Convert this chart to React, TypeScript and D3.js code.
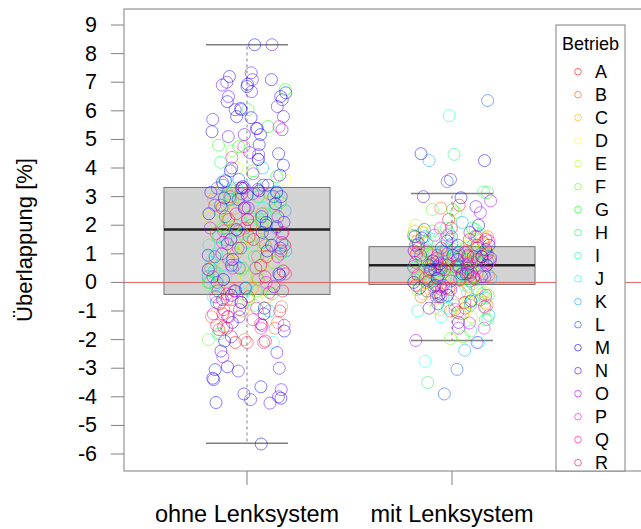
import React, { useMemo } from "react";
import * as d3 from "d3";

const betriebe = ["A", "B", "C", "D", "E", "F", "G", "H", "I", "J", "K", "L", "M", "N", "O", "P", "Q", "R"];
const gruppen = ["ohne Lenksystem", "mit Lenksystem"];
const yTicks = [-6, -5, -4, -3, -2, -1, 0, 1, 2, 3, 4, 5, 6, 7, 8, 9];

// Überlappung [%] je Betrieb, ohne Lenksystem
const ohneWerte: number[][] = [
  [-2.05, -2.1, -1.65, -1.45, -1.1, -0.95, -0.75, -0.3, 0.4, 1.3, 1.9, 2.6, 3.0, -1.55, 0.9, 2.2, -0.5, 1.6],
  [-2.0, -1.6, -1.2, -0.85, -0.6, 0.1, 0.9, 1.7, 2.4, 3.1, -1.4, 0.5, 1.3, 2.0, -0.2],
  [-1.0, -0.5, 0.6, 1.5, 2.2, 2.9, 3.4, -0.2, 0.1, 1.0, 1.9, 2.6],
  [0.3, 1.1, 2.0, 2.7, 3.6, -0.9, -0.3, 0.7, 1.5, 2.3],
  [-0.6, 0.8, 1.6, 2.3, 3.3, 4.0, 0.2, 1.2, 2.0, 2.8],
  [-2.0, -1.8, 0.2, 1.2, 2.1, 3.1, 3.9, 4.6, 2.5, -0.6, 0.7, 1.6, 2.9],
  [6.74, 6.04, 5.45, 4.8, 4.75, 3.7, 2.8, 1.4, 0.5, -0.4, 1.9, 0.0, 1.0, 2.3, 3.2],
  [4.2, 3.5, 2.6, 1.8, 0.9, 0.0, -0.8, 3.0, -0.3, 0.4, 1.4, 2.2],
  [3.3, 2.4, 1.0, 0.3, -0.5, 1.6, 2.9, 0.6, 1.3, 2.0, -0.1],
  [-1.8, -2.1, 0.2, 1.3, 2.2, 3.2, 0.7, -0.4, 1.7, 2.6, 3.6],
  [-0.2, 0.6, 1.5, 2.5, 3.4, 4.0, -1.0, 0.2, 1.1, 1.9, 2.9],
  [0.0, 0.9, 1.7, 2.3, 3.0, 3.6, 4.3, -0.7, 1.2, -0.2, 0.5, 2.0, 2.7, 3.3],
  [8.31, 7.2, 7.09, 6.93, 6.85, 6.63, 6.5, 6.32, 6.08, 5.8, 5.76, 5.38, 5.27, 5.17, 4.82, 4.5,
    4.1, 3.9, 3.55, 3.3, 3.2, 3.05, 2.75, 2.4, 2.1, 1.85, 1.5, 1.1, 0.8, 0.45, 0.1, -0.45,
    -0.7, -1.4, -2.05, -2.4, -2.95, -3.05, -3.35, -3.65, -3.9, -4.05, -4.2, -5.65,
    3.4, 2.6, 1.3, 0.3, -0.9, -1.1, -1.7, 3.15, 2.95],
  [8.31, 7.33, 7.09, 7.0, 6.9, 6.67, 6.5, 6.39, 6.15, 6.04, 6.04, 5.8, 5.7, 5.38, 5.34, 5.17,
    5.1, 4.54, 4.47, 4.3, 4.0, 3.75, 3.4, 3.35, 3.15, 2.9, 2.6, 2.3, 1.95, 1.75, 1.35, 0.95,
    0.6, 0.25, -0.15, -0.6, -0.95, -1.5, -2.45, -3.0, -3.1, -3.4, -3.75, -4.0, -4.1, -4.22,
    3.3, 3.0, 2.1, 1.2, -0.3, -1.2, -1.9, 3.5, 3.25],
  [-2.6, -1.5, -0.7, 0.2, 1.0, 1.9, 2.7, 3.3, 3.8, -1.2, 0.5, 1.4, 2.3, -0.3],
  [-1.1, -0.5, 0.5, 1.4, 2.2, 3.1, -1.6, 0.0, 0.9, 1.8, 2.6],
  [5.45, 4.75, 4.37, 3.1, 1.8, 1.7, 0.3, -0.9, -1.3, -1.5, -2.1, 0.8, 2.4, -0.4, 1.2],
  [-2.1, -1.6, -1.0, -0.6, -0.3, 0.2, 1.1, 1.75, -0.35, 0.6, -1.2, 1.5, 2.2],
];

// Überlappung [%] je Betrieb, mit Lenksystem
const mitWerte: number[][] = [
  [2.7, 2.2, 1.9, 1.4, 1.0, 0.75, 0.5, 0.3, 0.05, -0.3, -0.6, 0.9, 1.2, 0.2, 0.65, 1.6, -0.1, -0.9, 1.1],
  [2.6, 1.6, 1.3, 0.8, 0.4, 0.1, -0.2, -0.5, -1.0, -0.8, 0.95, 1.75, 0.6, 0.25, 1.15, -0.35, 1.45, 0.0],
  [1.8, 1.1, 0.6, 0.2, -0.15, -0.7, -1.1, 0.45, 1.35, -0.4, 0.9, 0.3, -0.6, 1.55, 0.75, -0.95],
  [1.5, 0.9, 0.3, -0.4, -1.05, 0.65, 1.2, -0.2, 0.0, 0.45, 1.0, -0.7, 1.75, 0.15, 0.8],
  [1.7, 1.25, 0.7, 0.15, -0.35, -0.9, 0.45, 2.0, -1.2, 0.9, 0.3, -0.5, 1.5, 0.05, 1.05],
  [2.55, 2.44, 1.6, 1.0, 0.35, -0.25, -1.96, -1.9, 0.8, -0.7, 0.55, 1.25, -0.4, 0.1, 1.8, -1.1],
  [3.14, 2.55, 1.9, 1.15, 0.55, -0.1, -0.8, 1.4, 0.2, -1.3, 0.8, 0.35, -0.45, 1.65, 0.95, 0.05],
  [4.48, 3.16, 1.7, 0.85, 0.25, -0.55, -1.7, -3.5, 1.3, 0.6, 0.4, 1.05, -0.2, 1.9, -0.9, 0.1],
  [5.83, 1.85, 1.2, 0.5, -0.05, -0.6, -1.3, 0.9, -1.0, 0.3, 0.7, 1.5, 0.1, -0.35, 1.05, 0.55],
  [1.55, 0.95, 0.4, -0.3, -0.9, -2.1, -2.76, 0.1, 1.25, -1.2, 0.75, 0.25, -0.55, 1.7, 0.55, -0.1],
  [4.26, 2.1, 1.35, 0.7, 0.15, -0.45, -1.15, -2.37, 0.95, -0.8, 0.5, 1.1, 0.35, -0.25, 1.6, 0.85],
  [6.36, 3.53, 1.6, 1.05, 0.5, -0.15, -0.75, -3.04, -3.9, 0.8, 0.25, 0.6, 1.3, 0.05, -0.5, 1.85, 0.95],
  [4.5, 4.26, 2.96, 2.0, 1.45, 0.9, 0.6, 0.3, -0.2, -0.65, 1.15, 0.0, 0.75, 0.45, 1.6, -0.45, 0.15, 1.3],
  [3.6, 2.65, 3.0, 1.75, 1.1, 0.65, 0.2, -0.35, -1.4, 0.45, 0.85, -0.9, 0.55, 1.35, 0.95, -0.1, 0.3, 1.55],
  [2.85, 2.44, 1.3, 0.75, 0.35, -0.1, -1.42, -1.6, -2.1, -2.03, 0.55, -0.5, 0.65, 1.0, 0.2, -0.25, 1.6, 0.9],
  [1.9, 1.45, 0.95, 0.6, 0.15, -0.45, -1.6, 0.7, -0.95, 1.2, 0.45, 0.8, 1.65, 0.3, -0.15, 0.55],
  [1.65, 1.05, 0.65, 0.25, -0.25, -0.85, 0.85, 1.3, 0.05, 0.45, 0.7, 1.5, -0.5, 0.95, 0.15],
  [1.5, 0.8, 0.55, 0.1, -0.4, -1.05, 1.0, 0.35, -0.7, 0.7, 0.25, 1.2, -0.2, 0.9, 0.6],
];

// boxplot statistics
const boxQ1 = [-0.42, -0.07];
const boxMedian = [1.85, 0.6];
const boxQ3 = [3.32, 1.25];
const whiskerLow = [-5.62, -2.03];
const whiskerHigh = [8.31, 3.11];

const font = "'Liberation Sans', Arial, Helvetica, sans-serif";

export default function App() {
  const W = 641;
  const H = 529;
  const left = 124, right = 657, top = 9, bottom = 471;

  const x = d3.scaleLinear().domain([0.4, 3.0]).range([left, right]);
  const y = d3.scaleLinear().domain([-6.594, 9.56]).range([bottom, top]);
  const color = d3
    .scaleOrdinal<string, string>()
    .domain(betriebe)
    .range(betriebe.map((_, i) => d3.hsl(i * 20, 1, 0.5).formatHex()));

  // jittered points, deterministic horizontal spread
  const points = useMemo(() => {
    const jit = d3.randomUniform.source(d3.randomLcg(0.42))(-0.19, 0.19);
    const out: { g: number; b: string; v: number; dx: number }[] = [];
    [ohneWerte, mitWerte].forEach((werte, g) => {
      werte.forEach((vals, bi) => {
        vals.forEach((v) => out.push({ g, b: betriebe[bi], v, dx: jit() }));
      });
    });
    return out;
  }, []);

  const boxHalf = 0.405;
  const capHalf = 0.2;
  const gray = "#808080";

  const legendTop = 25;
  const legendLeft = 556;
  const legendRight = 625;
  const rowY = (i: number) => 71.7 + i * 23;

  return (
    <svg
      width={W}
      height={H}
      style={{ position: "absolute", left: 0, top: 0, background: "#fff" }}
      fontFamily={font}
    >
      <defs>
        <clipPath id="plot">
          <rect x={left} y={top} width={right - left} height={bottom - top} />
        </clipPath>
      </defs>

      {/* boxes */}
      {gruppen.map((g, i) => {
        const cx = x(i + 1);
        return (
          <g key={g}>
            <line x1={cx} x2={cx} y1={y(boxQ3[i])} y2={y(whiskerHigh[i])} stroke={gray} strokeDasharray="3,3" />
            <line x1={cx} x2={cx} y1={y(boxQ1[i])} y2={y(whiskerLow[i])} stroke={gray} strokeDasharray="3,3" />
            <line x1={x(i + 1 - capHalf)} x2={x(i + 1 + capHalf)} y1={y(whiskerHigh[i])} y2={y(whiskerHigh[i])} stroke={gray} strokeWidth={1.5} />
            <line x1={x(i + 1 - capHalf)} x2={x(i + 1 + capHalf)} y1={y(whiskerLow[i])} y2={y(whiskerLow[i])} stroke={gray} strokeWidth={1.5} />
            <rect
              x={x(i + 1 - boxHalf)}
              y={y(boxQ3[i])}
              width={x(i + 1 + boxHalf) - x(i + 1 - boxHalf)}
              height={y(boxQ1[i]) - y(boxQ3[i])}
              fill="#d3d3d3"
              stroke="#707070"
            />
            <line x1={x(i + 1 - boxHalf)} x2={x(i + 1 + boxHalf)} y1={y(boxMedian[i])} y2={y(boxMedian[i])} stroke="#222" strokeWidth={2.5} />
          </g>
        );
      })}

      {/* zero line */}
      <line x1={left} x2={right} y1={y(0)} y2={y(0)} stroke="#e06060" strokeWidth={1} />

      {/* points */}
      <g clipPath="url(#plot)">
        {points.map((p, i) => (
          <circle
            key={i}
            cx={x(p.g + 1 + p.dx)}
            cy={y(p.v)}
            r={6}
            fill="none"
            stroke={color(p.b)}
            strokeOpacity={0.5}
            strokeWidth={1}
          />
        ))}
      </g>

      {/* frame */}
      <rect x={left} y={top} width={right - left} height={bottom - top} fill="none" stroke={gray} />

      {/* y axis */}
      {yTicks.map((t) => (
        <g key={t}>
          <line x1={left - 13} x2={left} y1={y(t)} y2={y(t)} stroke={gray} />
          <text x={97} y={y(t)} textAnchor="end" dominantBaseline="central" fontSize={21.5}>
            {t}
          </text>
        </g>
      ))}
      <text transform={`translate(32, ${(top + bottom) / 2}) rotate(-90)`} textAnchor="middle" fontSize={22}>
        Überlappung [%]
      </text>

      {/* x axis */}
      {gruppen.map((g, i) => (
        <g key={g}>
          <line x1={x(i + 1)} x2={x(i + 1)} y1={bottom} y2={bottom + 14} stroke={gray} />
          <text x={x(i + 1)} y={522} textAnchor="middle" fontSize={23.5}>
            {g}
          </text>
        </g>
      ))}

      {/* legend */}
      <rect x={legendLeft} y={legendTop} width={legendRight - legendLeft} height={bottom - legendTop} fill="#fff" stroke={gray} />
      <text x={(legendLeft + legendRight) / 2} y={50} textAnchor="middle" fontSize={18}>
        Betrieb
      </text>
      {betriebe.map((b, i) => (
        <g key={b}>
          <circle cx={578} cy={rowY(i)} r={3.3} fill="none" stroke={color(b)} strokeOpacity={0.6} />
          <text x={595} y={rowY(i)} dominantBaseline="central" fontSize={18}>
            {b}
          </text>
        </g>
      ))}
    </svg>
  );
}
